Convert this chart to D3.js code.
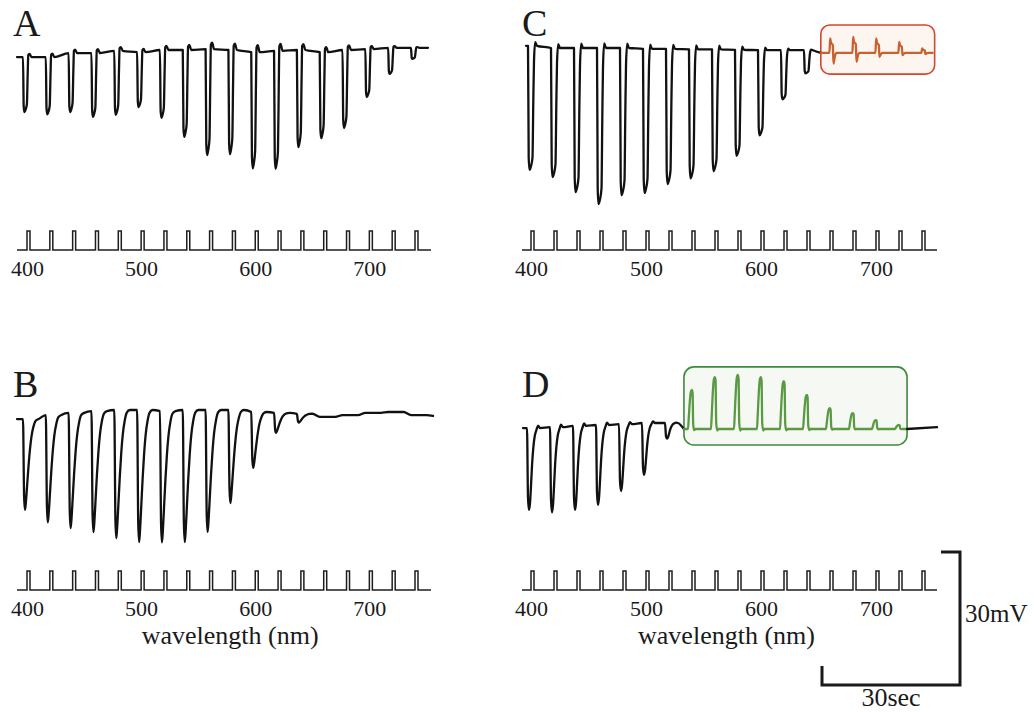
<!DOCTYPE html>
<html>
<head>
<meta charset="utf-8">
<title>spectral responses</title>
<script src="https://cdn.jsdelivr.net/npm/d3@7"></script>
<style>
  body { margin: 0; background: #fff; }
  svg text { font-family: "Liberation Serif", "Times New Roman", serif; fill: #1a1a1a; }
  .trace { fill: none; stroke-width: 2.3; stroke-linejoin: round; stroke-linecap: round; }
  .stim { fill: none; stroke: #1e1e1e; stroke-width: 1.5; }
</style>
</head>
<body>
<svg id="chart" width="1034" height="712"></svg>
<script>
// stimulus wavelengths (one flash every 5 s)
var wavelengths = [400, 420, 440, 460, 480, 500, 520, 540, 560, 580, 600, 620, 640, 660, 680, 700, 720, 740];
var tickLabels = [400, 500, 600, 700];

// peak responses in mV (negative = hyperpolarising) and resting level before each flash
var respA = [-12.4, -12.9, -13.3, -14.4, -14.4, -12.4, -15.3, -19.6, -23.9, -23.5, -26.2, -26.6, -21.9, -19.4, -17.6, -10.8, -5.9, -2.5];
var restA = [-1.6, -1.6, -0.7, -0.7, -0.2, -0.5, 0, 0, 0.2, 0, -0.5, -0.2, 0, -0.5, 0, 0.2, 0.5, 0.5];

var respB = [-20.5, -24.2, -26, -27.3, -28.9, -29.8, -29.6, -29.8, -27.5, -21, -12.6, -4.5, -2, 0, 0, 0, 0, 0];
var restB = [-1.6, -0.7, -0.2, 0.2, 0.45, 0.45, 0.2, 0.45, 0.45, 0.45, 0, -0.2, -0.4, -1.1, -0.7, -0.2, 0, -0.7];

var respC = [-28, -29.1, -32.5, -35.2, -33.2, -32.5, -30.5, -29.1, -27.5, -23.9, -19.2, -11.1, -5.2];
var restC = [0.5, 0, 0, 0, 0, -0.2, -0.2, -0.3, -0.3, -0.4, -0.5, -0.5, -0.5];
var orangeUp = [3.25, 3.6, 3.25, 2.5, 1.0];
var orangeDip = [2.4, 2.0, 0.9, 0.5, 0.3];
var orangeRest = -1.1;

var respD = [-18.5, -19.2, -19, -18, -15.1, -11.7, -3.5];
var restD = [-0.7, -0.5, -0.2, 0, 0.2, 0.45, 0.45];
var greenUp = [8.8, 11.7, 12.2, 11.7, 10.8, 7.7, 4.7, 3.6, 2.0, 0.9];
var greenRest = -0.9;

// waveform templates: [px offset from flash, fraction of peak]
var tplNarrow = [[-1.5, 0], [-0.8, 0.9], [0, 1], [1.2, 0.95], [2.4, 0.85], [3.2, 0.3], [3.8, -0.04], [5, -0.06], [7, 0]];
var tplWide = [[-1, 0], [-0.3, 0.9], [0.5, 1], [2, 0.97], [3.5, 0.9], [4.3, 0.45], [5, 0.12], [6.2, -0.03], [8, 0]];
var tplSlow = [[-0.5, 0], [0.6, 0.85], [1.5, 1], [2.5, 0.9], [3.5, 0.75], [5, 0.52], [6.5, 0.33], [8, 0.19], [10, 0.08], [12, 0.02], [15, 0]];
var tplRound = [[-0.5, 0], [0.5, 0.85], [1.5, 1], [2.6, 0.9], [3.6, 0.68], [4.6, 0.44], [5.8, 0.24], [7.2, 0.1], [9, 0.02], [10.5, -0.03], [12.5, 0]];
var tplUp = [[-4, 0], [-3.2, 0.3], [-2.2, 0.7], [-1.2, 0.95], [-0.2, 1], [0.6, 0.93], [1.2, 0.12], [2.2, -0.03], [3.5, 0]];

var svg = d3.select("#chart");
var mvPx = 133 / 30;   // 30 mV scale bar

var xL = d3.scaleLinear().domain([400, 740]).range([27, 415]);
var xR = d3.scaleLinear().domain([400, 740]).range([531, 922]);
function yScale(zero) { return d3.scaleLinear().domain([0, -30]).range([zero, zero + 30 * mvPx]); }
var yA = yScale(50), yB = yScale(412), yC = yScale(48), yD = yScale(425);

var line = d3.line().curve(d3.curveMonotoneX);

function scaled(tpl, a) { return tpl.map(function(p) { return [p[0], p[1] * a]; }); }
function orangeShape(up, dip) {
  return [[-0.6, 0], [0.2, up], [1, 0.7 * up], [2.8, 0.55 * up], [3.5, -dip], [4.8, -0.35 * dip], [6.5, 0]];
}

function tracePoints(x, y, x0, x1, events, endRest) {
  var pts = [[x0, y(events.length ? events[0].rest : endRest)]];
  events.forEach(function(e) {
    e.shape.forEach(function(s) { pts.push([x(e.wl) + e.lag + s[0], y(e.rest + s[1])]); });
  });
  pts.push([x1, y(endRest)]);
  return pts;
}

function drawTrace(pts, color, width) {
  svg.append("path").attr("class", "trace").attr("stroke", color)
    .attr("stroke-width", width || 2.3).attr("d", line(pts));
}

function drawStim(x, base, x0, x1) {
  var top = base - 19, pts = [[x0, base]];
  wavelengths.forEach(function(w) {
    pts.push([x(w), base], [x(w), top], [x(w) + 3, top], [x(w) + 3, base]);
  });
  pts.push([x1, base]);
  svg.append("path").attr("class", "stim").attr("d", d3.line()(pts));

  var ax = svg.append("g")
    .attr("transform", "translate(0," + base + ")")
    .call(d3.axisBottom(x).tickValues(tickLabels).tickSize(0).tickPadding(10));
  ax.select(".domain").remove();
  ax.selectAll("text").attr("font-family", "Liberation Serif").attr("font-size", 22).attr("fill", "#1a1a1a");
}

function letter(t, x, y) {
  svg.append("text").attr("x", x).attr("y", y).attr("font-size", 38).text(t);
}

// ---- A ----
var evA = wavelengths.map(function(w, i) { return { wl: w, rest: restA[i], lag: -2.5, shape: scaled(tplNarrow, respA[i]) }; });
drawTrace(tracePoints(xL, yA, 17, 428, evA, 0.5), "#111");
drawStim(xL, 250, 17, 431);
letter("A", 13, 36);

// ---- B ----
var evB = wavelengths.map(function(w, i) { return { wl: w, rest: restB[i], lag: -3.5, shape: scaled(tplSlow, respB[i]) }; });
drawTrace(tracePoints(xL, yB, 17, 433, evB, -0.9), "#111");
drawStim(xL, 590, 17, 431);
letter("B", 13, 397);
svg.append("text").attr("x", xL(578)).attr("y", 644).attr("text-anchor", "middle")
  .attr("font-size", 26).text("wavelength (nm)");

// ---- C ----
var boxC = { x0: xR(652), x1: xR(751), y0: yC(5.2), y1: yC(-5.9) };
svg.append("rect").attr("x", boxC.x0).attr("y", boxC.y0)
  .attr("width", boxC.x1 - boxC.x0).attr("height", boxC.y1 - boxC.y0)
  .attr("rx", 9).attr("fill", "#fdf6f0").attr("stroke", "#d8452f").attr("stroke-width", 1.6);
var evC = respC.map(function(a, i) { return { wl: wavelengths[i], rest: restC[i], lag: -2, shape: scaled(tplWide, a) }; });
drawTrace(tracePoints(xR, yC, 526, boxC.x0, evC, orangeRest), "#111");
var evCo = orangeUp.map(function(u, i) {
  return { wl: wavelengths[respC.length + i], rest: orangeRest, lag: 0, shape: orangeShape(u, orangeDip[i]) };
});
drawTrace(tracePoints(xR, yC, boxC.x0, boxC.x1 - 2, evCo, orangeRest), "#c9602f", 2.4);
drawStim(xR, 250, 522, 937);
letter("C", 522, 36);

// ---- D ----
var boxD = { x0: xR(533), x1: xR(727), y0: yD(13.1), y1: yD(-4.5) };
svg.append("rect").attr("x", boxD.x0).attr("y", boxD.y0)
  .attr("width", boxD.x1 - boxD.x0).attr("height", boxD.y1 - boxD.y0)
  .attr("rx", 10).attr("fill", "#f6f9f3").attr("stroke", "#3d8b3d").attr("stroke-width", 1.6);
var evD = respD.map(function(a, i) { return { wl: wavelengths[i], rest: restD[i], lag: -3.5, shape: scaled(tplRound, a) }; });
drawTrace(tracePoints(xR, yD, 523, boxD.x0, evD, greenRest), "#111");
var evDg = greenUp.map(function(u, i) {
  return { wl: wavelengths[respD.length + i], rest: greenRest, lag: 0, shape: scaled(tplUp, u) };
});
drawTrace(tracePoints(xR, yD, boxD.x0, boxD.x1, evDg, greenRest), "#5a9a45", 2.6);
drawTrace([[boxD.x1, yD(greenRest)], [937, yD(-0.5)]], "#111");
drawStim(xR, 590, 522, 937);
letter("D", 522, 397);
svg.append("text").attr("x", xR(570)).attr("y", 644).attr("text-anchor", "middle")
  .attr("font-size", 26).text("wavelength (nm)");

// ---- scale bar: 30 mV, 30 s (= 120 nm of sweep at 20 nm / 5 s) ----
var sbX = 960, sbBottom = 685;
var sbTop = sbBottom - (yD(-30) - yD(0));
var sbLeft = sbX - (xR(520) - xR(400));
svg.append("path")
  .attr("d", d3.line()([[sbLeft, sbBottom - 19], [sbLeft, sbBottom], [sbX, sbBottom], [sbX, sbTop], [sbX - 19, sbTop]]))
  .attr("fill", "none").attr("stroke", "#1a1a1a").attr("stroke-width", 3);
svg.append("text").attr("x", sbX + 5).attr("y", 622).attr("font-size", 25).text("30mV");
svg.append("text").attr("x", (sbLeft + sbX) / 2).attr("y", 706).attr("text-anchor", "middle")
  .attr("font-size", 26).text("30sec");
</script>
</body>
</html>
